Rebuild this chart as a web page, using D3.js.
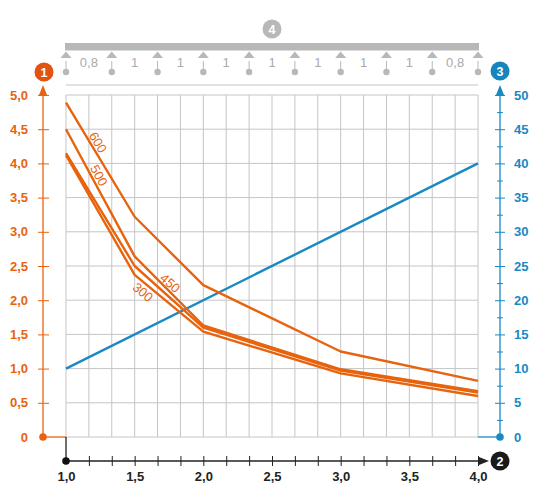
<!DOCTYPE html>
<html>
<head>
<meta charset="utf-8">
<script src="https://cdn.jsdelivr.net/npm/d3@7"></script>
<style>
  body { margin: 0; background: #fff; }
  svg { font-family: "Liberation Sans", Arial, sans-serif; }
</style>
</head>
<body>
<div id="chart"></div>
<script>
// span widths above the chart (m)
var spanLabels = ["0,8", "1", "1", "1", "1", "1", "1", "1", "0,8"];

// x values where the load curves were read
var spanX = [1.0, 1.5, 2.0, 3.0, 4.0];
var load600 = [4.89, 3.22, 2.22, 1.25, 0.82];
var load500 = [4.50, 2.64, 1.63, 0.99, 0.67];
var load450 = [4.15, 2.50, 1.60, 0.97, 0.65];
var load300 = [4.12, 2.37, 1.54, 0.93, 0.60];

// blue line (right axis)
var deflX = [1.0, 4.0];
var deflY = [10, 40];

var seriesNames = ["600", "500", "450", "300"];
var seriesVals = [load600, load500, load450, load300];
// where the curve names sit: x value along the curve and side offset (px)
var labelAt = [1.19, 1.195, 1.705, 1.597];
var labelOff = [7, 7, 11, -8];

var orange = "#e8630d", blue = "#1889c3", grey = "#c5c5c5", beamGrey = "#b8b8b8";

var width = 540, height = 496;
var x = d3.scaleLinear().domain([1, 4]).range([66, 478]);
var yL = d3.scaleLinear().domain([0, 5]).range([437, 95]);
var yR = d3.scaleLinear().domain([0, 50]).range([437, 95]);
var sx = d3.scaleLinear().domain([0, spanLabels.length]).range([66, 478]);

var loc = d3.formatLocale({decimal: ",", thousands: ".", grouping: [3], currency: ["", ""]});
var f1 = loc.format(".1f");

var svg = d3.select("#chart").append("svg")
  .attr("width", width).attr("height", height);

//grid
var grid = svg.append("g");
grid.selectAll("line.v").data(d3.range(19).map(function(i) { return 1 + i / 6; }))
  .enter().append("line")
  .attr("x1", function(d) { return x(d); }).attr("x2", function(d) { return x(d); })
  .attr("y1", yL(5)).attr("y2", yL(0))
  .attr("stroke", grey).attr("stroke-width", 1);
grid.selectAll("line.h").data(d3.range(0, 5.01, 0.5))
  .enter().append("line")
  .attr("x1", x(1)).attr("x2", x(4))
  .attr("y1", function(d) { return yL(d); }).attr("y2", function(d) { return yL(d); })
  .attr("stroke", grey).attr("stroke-width", 1);
grid.append("line")
  .attr("x1", x(1)).attr("x2", x(4)).attr("y1", 85).attr("y2", 85)
  .attr("stroke", grey).attr("stroke-width", 1);

//beam with supports
var beam = svg.append("g");
beam.append("rect").attr("x", sx(0) - 1).attr("y", 43).attr("width", sx(spanLabels.length) - sx(0) + 2)
  .attr("height", 7.5).attr("fill", beamGrey);
var sup = beam.selectAll("g.sup").data(d3.range(spanLabels.length + 1)).enter().append("g")
  .attr("transform", function(d) { return "translate(" + sx(d) + ",0)"; });
sup.append("path").attr("d", "M0,51.5L5.5,58L-5.5,58Z").attr("fill", beamGrey);
sup.append("line").attr("x1", 0).attr("x2", 0).attr("y1", 61).attr("y2", 69)
  .attr("stroke", beamGrey).attr("stroke-width", 1);
sup.append("circle").attr("cx", 0).attr("cy", 72).attr("r", 3.2).attr("fill", beamGrey);
beam.selectAll("text.span").data(spanLabels).enter().append("text")
  .attr("x", function(d, i) { return (sx(i) + sx(i + 1)) / 2; })
  .attr("y", 67)
  .attr("text-anchor", "middle").attr("font-size", 13).attr("fill", "#aaa")
  .text(function(d) { return d; });

//lines
var line = d3.line().x(function(d) { return x(d[0]); }).y(function(d) { return yL(d[1]); });
var lineR = d3.line().x(function(d) { return x(d[0]); }).y(function(d) { return yR(d[1]); });

svg.append("path").datum(d3.zip(deflX, deflY))
  .attr("d", lineR).attr("fill", "none").attr("stroke", blue).attr("stroke-width", 2.4);

seriesVals.forEach(function(vals) {
  svg.append("path").datum(d3.zip(spanX, vals))
    .attr("d", line).attr("fill", "none").attr("stroke", orange)
    .attr("stroke-width", 2.4).attr("stroke-linejoin", "round");
});

//curve names
seriesVals.forEach(function(vals, k) {
  var xv = labelAt[k], i = 0;
  while (i < spanX.length - 2 && xv > spanX[i + 1]) i++;
  var t = (xv - spanX[i]) / (spanX[i + 1] - spanX[i]);
  var yv = vals[i] + t * (vals[i + 1] - vals[i]);
  var dx = x(spanX[i + 1]) - x(spanX[i]), dy = yL(vals[i + 1]) - yL(vals[i]);
  var ang = Math.atan2(dy, dx) * 180 / Math.PI;
  svg.append("text")
    .attr("transform", "translate(" + x(xv) + "," + yL(yv) + ") rotate(" + ang + ") translate(0," + (-labelOff[k]) + ")")
    .attr("text-anchor", "middle").attr("dy", "0.35em")
    .attr("font-size", 13).attr("fill", orange)
    .text(seriesNames[k]);
});

//left axis
var ax = 43;
svg.append("line").attr("x1", ax).attr("x2", x(1)).attr("y1", yL(0)).attr("y2", yL(0))
  .attr("stroke", orange).attr("stroke-width", 1.3);
svg.append("line").attr("x1", ax).attr("x2", ax).attr("y1", yL(0)).attr("y2", 90)
  .attr("stroke", orange).attr("stroke-width", 1.3);
svg.append("path").attr("d", "M" + ax + ",85L" + (ax + 4) + ",95L" + (ax - 4) + ",95Z").attr("fill", orange);
svg.append("circle").attr("cx", ax).attr("cy", yL(0)).attr("r", 3.8).attr("fill", orange);
var gL = svg.append("g").attr("transform", "translate(" + ax + ",0)")
  .call(d3.axisLeft(yL).tickValues(d3.range(0, 5.01, 0.5))
    .tickFormat(function(d) { return d === 0 ? "0" : f1(d); }).tickSize(5).tickPadding(10));
gL.select(".domain").remove();
gL.selectAll(".tick line").attr("x1", -5).attr("x2", 6).attr("stroke", orange);
gL.selectAll(".tick text").attr("fill", orange).attr("font-size", 13).attr("font-weight", "bold")
  .attr("font-family", "Liberation Sans, Arial, sans-serif");
gL.selectAll(".tick").filter(function(d) { return d === 0; }).select("line").remove();

//right axis
var bx = 500;
svg.append("line").attr("x1", x(4)).attr("x2", bx).attr("y1", yR(0)).attr("y2", yR(0))
  .attr("stroke", blue).attr("stroke-width", 1.3);
svg.append("line").attr("x1", bx).attr("x2", bx).attr("y1", yR(0)).attr("y2", 90)
  .attr("stroke", blue).attr("stroke-width", 1.3);
svg.append("path").attr("d", "M" + bx + ",85L" + (bx + 4) + ",95L" + (bx - 4) + ",95Z").attr("fill", blue);
svg.append("circle").attr("cx", bx).attr("cy", yR(0)).attr("r", 3.8).attr("fill", blue);
var gR = svg.append("g").attr("transform", "translate(" + bx + ",0)")
  .call(d3.axisRight(yR).tickValues(d3.range(0, 51, 5)).tickSize(5).tickPadding(9));
gR.select(".domain").remove();
gR.selectAll(".tick line").attr("x1", -5).attr("x2", 5).attr("stroke", blue);
gR.selectAll(".tick text").attr("fill", blue).attr("font-size", 13).attr("font-weight", "bold")
  .attr("font-family", "Liberation Sans, Arial, sans-serif");
gR.selectAll(".tick").filter(function(d) { return d === 0; }).select("line").remove();
var gRm = svg.append("g").attr("transform", "translate(" + bx + ",0)")
  .call(d3.axisRight(yR).tickValues(d3.range(2.5, 50, 5)).tickFormat("").tickSize(3));
gRm.select(".domain").remove();
gRm.selectAll(".tick line").attr("x1", -3).attr("x2", 3).attr("stroke", blue);

//bottom axis
var by = 461;
svg.append("line").attr("x1", x(1)).attr("x2", x(1)).attr("y1", yL(0)).attr("y2", by)
  .attr("stroke", "#222").attr("stroke-width", 1.3);
svg.append("line").attr("x1", x(1)).attr("x2", 482).attr("y1", by).attr("y2", by)
  .attr("stroke", "#222").attr("stroke-width", 1.3);
svg.append("path").attr("d", "M489," + by + "L479," + (by - 4) + "L479," + (by + 4) + "Z").attr("fill", "#222");
svg.append("circle").attr("cx", x(1)).attr("cy", by).attr("r", 3.8).attr("fill", "#111");
var gB = svg.append("g").attr("transform", "translate(0," + by + ")")
  .call(d3.axisBottom(x).tickValues(d3.range(19).map(function(i) { return 1 + i / 6; }))
    .tickFormat(function(d, i) { return i % 3 === 0 ? f1(d) : ""; }).tickSize(5).tickPadding(6));
gB.select(".domain").remove();
gB.selectAll(".tick line").attr("y1", -5).attr("y2", 5).attr("stroke", "#222");
gB.selectAll(".tick").filter(function(d, i) { return i === 0; }).select("line").remove();
gB.selectAll(".tick text").attr("fill", "#222").attr("font-size", 13).attr("font-weight", "bold")
  .attr("font-family", "Liberation Sans, Arial, sans-serif");

//numbered badges
var badges = [
  {t: "1", cx: 44, cy: 72, c: "#e2530e"},
  {t: "3", cx: 500, cy: 71, c: "#1585bd"},
  {t: "2", cx: 500, cy: 461, c: "#1a1a1a"},
  {t: "4", cx: 272, cy: 29, c: "#b8b8b8"}
];
var b = svg.selectAll("g.badge").data(badges).enter().append("g")
  .attr("transform", function(d) { return "translate(" + d.cx + "," + d.cy + ")"; });
b.append("circle").attr("r", 9.5).attr("fill", function(d) { return d.c; });
b.append("text").attr("text-anchor", "middle").attr("dy", "0.36em")
  .attr("font-size", 12.5).attr("font-weight", "bold").attr("fill", "#fff")
  .text(function(d) { return d.t; });
</script>
</body>
</html>
